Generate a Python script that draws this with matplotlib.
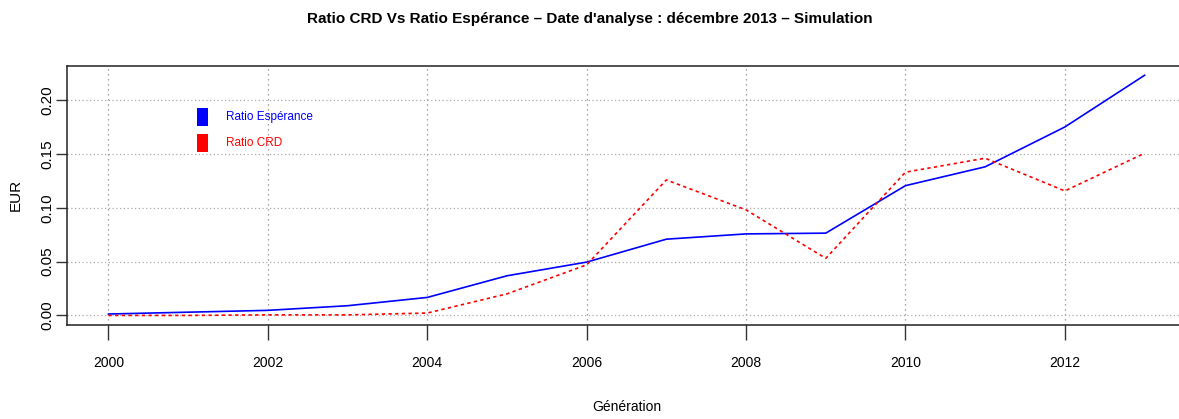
import matplotlib
matplotlib.use('Agg')
import matplotlib.pyplot as plt
from matplotlib.patches import Rectangle

plt.rcParams['font.family'] = ['Liberation Sans Narrow', 'Liberation Sans', 'DejaVu Sans']

# data
years = [2000, 2001, 2002, 2003, 2004, 2005, 2006, 2007, 2008, 2009, 2010, 2011, 2012, 2013]
ratio_esperance = [0.0013, 0.003, 0.0047, 0.009, 0.0167, 0.0368, 0.0495, 0.0708,
                   0.0757, 0.0764, 0.1205, 0.138, 0.175, 0.223]
ratio_crd = [0.0, 0.0, 0.0005, 0.0005, 0.0022, 0.020, 0.047, 0.1258,
             0.098, 0.053, 0.133, 0.146, 0.1156, 0.1506]
xticks = [2000, 2002, 2004, 2006, 2008, 2010, 2012]
yticks = [0.00, 0.05, 0.10, 0.15, 0.20]
legend_labels = ['Ratio Espérance', 'Ratio CRD']
legend_colors = ['blue', 'red']

W, H = 1179, 419
fig = plt.figure(figsize=(W / 100, H / 100), dpi=100)
# axes runs a bit past the right edge of the figure, like the reference
ax = fig.add_axes([67 / W, 1 - 325 / H, (1186 - 67) / W, (325 - 65.7) / H])

ax.plot(years, ratio_esperance, color='blue', linewidth=1.2)
ax.plot(years, ratio_crd, color='red', linewidth=1.2, linestyle=(0, (2, 2)))

ax.set_xlim(1999.48, 2013.52)
ax.set_ylim(-0.0089, 0.2319)
ax.set_xticks(xticks)
ax.set_yticks(yticks)
ax.set_xticklabels([str(x) for x in xticks], fontsize=10)
ax.set_yticklabels(['%.2f' % y for y in yticks], fontsize=11, rotation=90, va='center')
ax.tick_params(axis='x', length=11, pad=11, width=1, color='#333333')
ax.tick_params(axis='y', length=8, pad=1, width=1, color='#333333')

for v in xticks:
    ax.axvline(v, color='#888888', linestyle=(0, (1, 3)), linewidth=0.9, zorder=0)
for v in yticks:
    ax.axhline(v, color='#aaaaaa', linestyle=(0, (1, 2)), linewidth=0.9, zorder=0)

for s in ax.spines.values():
    s.set_color('#222222')
    s.set_linewidth(1.1)

ax.set_ylabel('EUR', fontsize=11)
ax.yaxis.set_label_coords(-0.0393, 0.5)
ax.set_xlabel('Génération', fontsize=10)
ax.xaxis.set_label_coords(0.5, -0.289)
fig.text(0.5, 1 - 19 / H, "Ratio CRD Vs Ratio Espérance \u2013 Date d'analyse : décembre 2013 \u2013 Simulation",
         ha='center', va='center', fontsize=11, fontweight='bold')

# R-style legend: filled squares with coloured text
for i, (lab, col) in enumerate(zip(legend_labels, legend_colors)):
    ybot = 0.7686 - i * 0.1003
    ax.add_patch(Rectangle((0.1159, ybot), 0.00983, 0.069, transform=ax.transAxes,
                           facecolor=col, edgecolor='none'))
    ax.text(0.1418, ybot + 0.0345, lab, color=col, fontsize=8.5, va='center', ha='left',
            transform=ax.transAxes)

fig.savefig('out.png', dpi=100)
